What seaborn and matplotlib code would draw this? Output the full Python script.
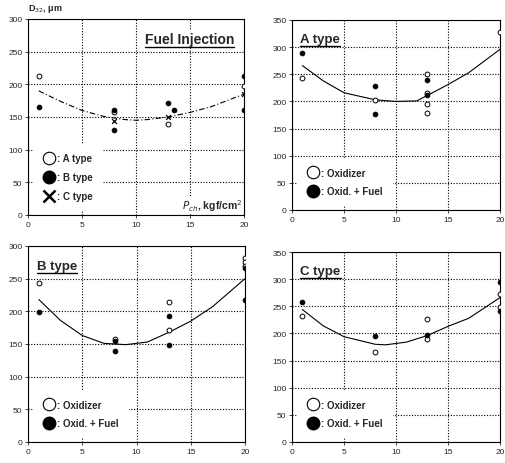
import matplotlib
matplotlib.use("Agg")
import matplotlib.pyplot as plt
import seaborn as sns
import pandas as pd
from matplotlib.lines import Line2D

# ---------------- data ----------------
# Panel 1: Fuel injection
fi_a_x = [1, 8, 13, 20]
fi_a_y = [212, 158, 139, 197]
fi_b_x = [1, 8, 8, 13, 13.5, 20, 20]
fi_b_y = [165, 161, 130, 172, 161, 212, 160]
fi_c_x = [8, 13, 20]
fi_c_y = [144, 150, 185]
fi_fit_x = [1, 3, 5, 7, 9, 10, 11, 13, 15, 17, 20]
fi_fit_y = [190, 174, 160, 151, 146, 145, 146, 150, 157, 166, 185]

# Panel 2: A type
a_ox_x = [1, 8, 13, 13, 13, 13, 20]
a_ox_y = [244, 202, 250, 215, 196, 178, 328]
a_of_x = [1, 8, 8, 13, 13]
a_of_y = [290, 229, 176, 240, 212]
a_fit_x = [1, 3, 5, 8, 10, 12, 13, 15, 17, 20]
a_fit_y = [266, 238, 216, 203, 200, 201, 211, 231, 253, 296]

# Panel 3: B type
b_ox_x = [1, 8, 13, 13, 20, 20, 20]
b_ox_y = [243, 157, 215, 171, 282, 276, 270]
b_of_x = [1, 8, 8, 13, 13, 20, 20]
b_of_y = [199, 155, 140, 193, 148, 266, 217]
b_fit_x = [1, 3, 5, 7, 9, 11, 13, 15, 17, 20]
b_fit_y = [218, 186, 163, 151, 149, 153, 168, 185, 207, 250]

# Panel 4: C type
c_ox_x = [1, 8, 13, 13, 20, 20]
c_ox_y = [233, 166, 226, 189, 272, 249]
c_of_x = [1, 8, 13, 20, 20]
c_of_y = [258, 196, 197, 294, 241]
c_fit_x = [1, 3, 5, 8, 9, 11, 13, 15, 17, 20]
c_fit_y = [244, 214, 194, 180, 179, 184, 196, 213, 228, 266]

x_ticks = [0, 5, 10, 15, 20]
titles = ["Fuel Injection", "A type", "B type", "C type"]
legend_fi = [": A type", ": B type", ": C type"]
legend_ox = [": Oxidizer", ": Oxid. + Fuel"]

# ---------------- style ----------------
sns.set_style("white")
plt.rcParams["font.family"] = ["Liberation Sans", "DejaVu Sans"]

fig = plt.figure(figsize=(5.06, 4.64), dpi=100)
W, H = 506.0, 464.0

def make_ax(l, r, t, b):
    return fig.add_axes([l / W, 1 - b / H, (r - l) / W, (b - t) / H])

ax1 = make_ax(28, 244, 20, 216)
ax2 = make_ax(292, 500, 21, 211)
ax3 = make_ax(28, 245, 247, 443)
ax4 = make_ax(292, 500, 253, 443)

def style_ax(ax, ymax):
    ax.set_xlim(0, 20)
    ax.set_ylim(0, ymax)
    ax.set_xticks(x_ticks)
    ax.set_yticks(list(range(0, ymax + 1, 50)))
    ax.grid(True, color="black", linestyle=(0, (1, 1.5)), linewidth=0.8)
    ax.set_axisbelow(True)
    for s in ax.spines.values():
        s.set_color("black")
        s.set_linewidth(0.8)
    ax.tick_params(axis="both", labelsize=6, length=2, width=0.6,
                   direction="out", pad=2, left=True, bottom=True)
    ax.set_xlabel("")
    ax.set_ylabel("")

ms = 12

def scat(ax, x, y, filled, marker="o"):
    df = pd.DataFrame({"x": x, "y": y})
    if marker == "x":
        sns.scatterplot(data=df, x="x", y="y", ax=ax, marker="x", color="black",
                        s=ms, linewidth=0.9, zorder=4)
    elif filled:
        sns.scatterplot(data=df, x="x", y="y", ax=ax, marker="o", color="black",
                        s=ms, edgecolor="black", linewidth=0.6, zorder=4)
    else:
        sns.scatterplot(data=df, x="x", y="y", ax=ax, marker="o", facecolor="white",
                        s=ms, edgecolor="black", linewidth=0.7, zorder=4)

def fit(ax, x, y, dashed):
    df = pd.DataFrame({"x": x, "y": y})
    sns.lineplot(data=df, x="x", y="y", ax=ax, color="black",
                 linewidth=0.8, linestyle=(0, (5, 2, 1, 2)) if dashed else "-",
                 zorder=3)

# Panel 1
fit(ax1, fi_fit_x, fi_fit_y, True)
scat(ax1, fi_a_x, fi_a_y, False)
scat(ax1, fi_b_x, fi_b_y, True)
scat(ax1, fi_c_x, fi_c_y, True, marker="x")
style_ax(ax1, 300)

# Panel 2
fit(ax2, a_fit_x, a_fit_y, False)
scat(ax2, a_ox_x, a_ox_y, False)
scat(ax2, a_of_x, a_of_y, True)
style_ax(ax2, 350)

# Panel 3
fit(ax3, b_fit_x, b_fit_y, False)
scat(ax3, b_ox_x, b_ox_y, False)
scat(ax3, b_of_x, b_of_y, True)
style_ax(ax3, 300)

# Panel 4
fit(ax4, c_fit_x, c_fit_y, False)
scat(ax4, c_ox_x, c_ox_y, False)
scat(ax4, c_of_x, c_of_y, True)
style_ax(ax4, 350)

# Legends
def make_legend(ax, labels, markers, spacing):
    handles = []
    for m in markers:
        if m == "open":
            h = Line2D([], [], marker="o", linestyle="", markersize=9,
                       markerfacecolor="white", markeredgecolor="black",
                       markeredgewidth=0.8)
        elif m == "filled":
            h = Line2D([], [], marker="o", linestyle="", markersize=9,
                       markerfacecolor="black", markeredgecolor="black")
        else:
            h = Line2D([], [], marker="x", linestyle="", markersize=8,
                       color="black", markeredgewidth=1.8)
        handles.append(h)
    leg = ax.legend(handles, labels, loc="lower left", bbox_to_anchor=(0.0, 0.0),
                    frameon=True, facecolor="white", edgecolor="white",
                    framealpha=1.0, fancybox=False, handletextpad=0.0,
                    handlelength=1.6, labelspacing=spacing, borderpad=0.9,
                    prop={"size": 7, "weight": "bold"})
    leg.set_zorder(5)
    return leg

make_legend(ax1, legend_fi, ["open", "filled", "x"], 0.95)
make_legend(ax2, legend_ox, ["open", "filled"], 0.9)
make_legend(ax3, legend_ox, ["open", "filled"], 0.9)
make_legend(ax4, legend_ox, ["open", "filled"], 0.9)

# Titles (underlined)
title_specs = [
    (ax1, titles[0], 0.955, 0.90, "right", 10),
    (ax2, titles[1], 0.04, 0.90, "left", 9.5),
    (ax3, titles[2], 0.04, 0.90, "left", 9.5),
    (ax4, titles[3], 0.04, 0.90, "left", 9.5),
]
title_texts = []
for ax, t, x, y, ha, fs in title_specs:
    tx = ax.text(x, y, t, transform=ax.transAxes, ha=ha, va="center",
                 fontsize=fs, fontweight="bold", zorder=6,
                 bbox=dict(facecolor="white", edgecolor="none", pad=1.0))
    title_texts.append(tx)

# Axis labels
fig.text(28 / W, 1 - 9 / H, r"D$_{32}$, μm", fontsize=6.5, fontweight="bold",
         ha="left", va="center")
ax1.text(0.99, 0.05, r"$P_{ch}$, kgf/cm$^2$", transform=ax1.transAxes,
         ha="right", va="center", fontsize=7.5, fontweight="bold", zorder=6,
         bbox=dict(facecolor="white", edgecolor="none", pad=0.5))

fig.canvas.draw()
renderer = fig.canvas.get_renderer()
for tx in title_texts:
    bb = tx.get_window_extent(renderer=renderer)
    inv = fig.transFigure.inverted()
    (x0, y0), (x1, y1) = inv.transform([(bb.x0, bb.y0), (bb.x1, bb.y1)])
    ypos = y0 - 1.0 / H
    fig.add_artist(Line2D([x0, x1], [ypos, ypos], transform=fig.transFigure,
                          color="black", linewidth=1.0, zorder=7))

fig.savefig("out.png", dpi=100)
